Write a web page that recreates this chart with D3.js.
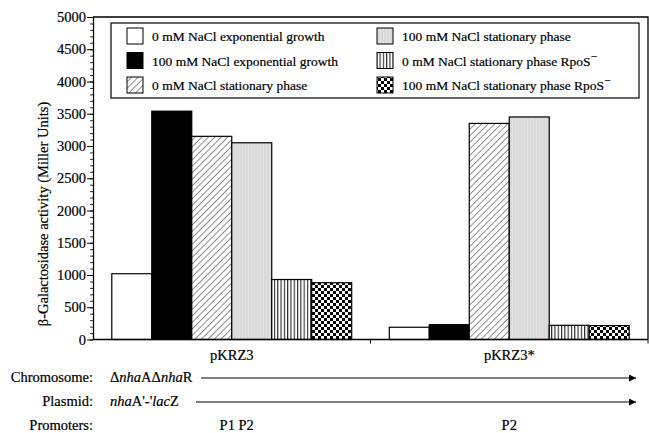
<!DOCTYPE html>
<html><head><meta charset="utf-8">
<script src="https://cdn.jsdelivr.net/npm/d3@7"></script>
<style>
body{margin:0;background:#fff;}
svg{display:block;font-family:"Liberation Serif","Times New Roman",serif;}
svg text{stroke:#000;stroke-width:0.2px;}
</style></head>
<body><svg id="c" width="649" height="433"></svg>
<script>
const categories = ["pKRZ3", "pKRZ3*"];
const seriesNames = [
  "0 mM NaCl exponential growth",
  "100 mM NaCl exponential growth",
  "0 mM NaCl stationary phase",
  "100 mM NaCl stationary phase",
  "0 mM NaCl stationary phase RpoS",
  "100 mM NaCl stationary phase RpoS"
];
const exp0 = [1020, 190];
const exp100 = [3540, 230];
const stat0 = [3150, 3350];
const stat100 = [3050, 3450];
const rpos0 = [930, 220];
const rpos100 = [880, 215];
const yTicks = [0, 500, 1000, 1500, 2000, 2500, 3000, 3500, 4000, 4500, 5000];
const promoters = ["P1 P2", "P2"];

const seriesValues = [exp0, exp100, stat0, stat100, rpos0, rpos100];
const fills = ["#fff", "#000", "url(#hatch)", "url(#grey)", "url(#vert)", "url(#check)"];

const svg = d3.select("#c");
const defs = svg.append("defs");
// diagonal hatch
const ph = defs.append("pattern").attr("id","hatch").attr("patternUnits","userSpaceOnUse")
  .attr("width",4.6).attr("height",4.6).attr("patternTransform","rotate(45)");
ph.append("rect").attr("width",4.6).attr("height",4.6).attr("fill","#fff");
ph.append("line").attr("x1",0).attr("y1",0).attr("x2",0).attr("y2",4.6).attr("stroke","#222").attr("stroke-width",1);
// grey stipple
const pg = defs.append("pattern").attr("id","grey").attr("patternUnits","userSpaceOnUse").attr("width",3).attr("height",3);
pg.append("rect").attr("width",3).attr("height",3).attr("fill","#e2e2e2");
pg.append("line").attr("x1",1).attr("y1",0).attr("x2",1).attr("y2",3).attr("stroke","#cfcfcf").attr("stroke-width",1);
// vertical lines
const pv = defs.append("pattern").attr("id","vert").attr("patternUnits","userSpaceOnUse").attr("width",3.3).attr("height",4);
pv.append("rect").attr("width",3.3).attr("height",4).attr("fill","#fff");
pv.append("line").attr("x1",0.6).attr("y1",0).attr("x2",0.6).attr("y2",4).attr("stroke","#111").attr("stroke-width",1);
// checker
const pc = defs.append("pattern").attr("id","check").attr("patternUnits","userSpaceOnUse").attr("width",6).attr("height",6);
pc.append("rect").attr("width",6).attr("height",6).attr("fill","#fff");
pc.append("rect").attr("width",3).attr("height",3).attr("fill","#000");
pc.append("rect").attr("x",3).attr("y",3).attr("width",3).attr("height",3).attr("fill","#000");
// arrow
defs.append("marker").attr("id","arr").attr("viewBox","0 0 10 10").attr("refX",10).attr("refY",5)
  .attr("markerWidth",9).attr("markerHeight",7).attr("markerUnits","userSpaceOnUse").attr("orient","auto")
  .append("path").attr("d","M0,0L10,5L0,10Z").attr("fill","#000");

const mLeft = 93, mRight = 648, mTop = 17, mBottom = 339.5;
const y = d3.scaleLinear().domain([0, 5000]).range([mBottom, mTop]);
const x0 = d3.scaleBand().domain(categories).range([mLeft, mRight]).paddingInner(0).paddingOuter(0);
const x1 = d3.scaleBand().domain(d3.range(seriesNames.length)).range([0, x0.bandwidth()]).paddingInner(0).paddingOuter(0.47);

// bars
categories.forEach((c, ci) => {
  seriesValues.forEach((vals, si) => {
    svg.append("rect")
      .attr("x", x0(c) + x1(si))
      .attr("y", y(vals[ci]))
      .attr("width", x1.bandwidth())
      .attr("height", y(0) - y(vals[ci]))
      .attr("fill", fills[si])
      .attr("stroke", "#000").attr("stroke-width", 1.2);
  });
});

// frame
svg.append("path").attr("d", `M${mLeft},${mTop}H${mRight}V${mBottom}`).attr("fill","none").attr("stroke","#000").attr("stroke-width",1.3);

// y axis
const yMinor = svg.append("g").attr("transform", `translate(${mLeft},0)`)
  .call(d3.axisLeft(y).tickValues(d3.range(0, 5001, 100)).tickSize(3).tickFormat(""));
yMinor.select(".domain").remove();
yMinor.selectAll("line").attr("stroke","#333");
const yAx = svg.append("g").attr("transform", `translate(${mLeft},0)`)
  .call(d3.axisLeft(y).tickValues(yTicks).tickSize(6).tickSizeOuter(0).tickPadding(1).tickFormat(d3.format("d")));
yAx.select(".domain").attr("stroke-width",1.3);
yAx.selectAll("text").attr("font-family","Liberation Serif").attr("font-size",14.5).attr("fill","#000");

// x axis
const xAx = svg.append("g").attr("transform", `translate(0,${mBottom})`)
  .call(d3.axisBottom(x0).tickSize(0).tickPadding(10));
xAx.select(".domain").attr("d", `M${mLeft},0H${mRight}`).attr("stroke-width",1.3);
xAx.selectAll("text").attr("font-family","Liberation Serif").attr("font-size",14.5).attr("fill","#000");
// group separators ticks
categories.slice(1).concat(["__end"]).forEach((c) => {
  const xx = c === "__end" ? mRight : x0(c);
  svg.append("line").attr("x1",xx).attr("x2",xx).attr("y1",mBottom).attr("y2",mBottom+4).attr("stroke","#000");
});

// y title
svg.append("text").attr("transform", `translate(48,214) rotate(-90)`)
  .attr("text-anchor","middle").attr("font-size",14.5).text("β-Galactosidase activity (Miller Units)");

// legend
const lg = svg.append("g");
lg.append("rect").attr("x",111).attr("y",23).attr("width",528).attr("height",75).attr("fill","#fff").attr("stroke","#000").attr("stroke-width",1.2);
seriesNames.forEach((n, i) => {
  const col = Math.floor(i / 3), row = i % 3;
  const sx = col === 0 ? 127 : 377;
  const sy = 28 + row * 24.5;
  lg.append("rect").attr("x",sx).attr("y",sy).attr("width",16).attr("height",16)
    .attr("fill",fills[i]).attr("stroke","#000").attr("stroke-width",1);
  const t = lg.append("text").attr("x",sx + 25).attr("y",sy + 13).attr("font-size",13.5).text(n);
  if (i >= 4) t.append("tspan").attr("dy",-6).attr("font-size",11).text("\u2212");
});

// bottom annotation
const rows = [{lab:"Chromosome:", y:382}, {lab:"Plasmid:", y:406}, {lab:"Promoters:", y:430}];
rows.forEach(r => svg.append("text").attr("x",93).attr("y",r.y).attr("text-anchor","end").attr("font-size",14.5).text(r.lab));
const t1 = svg.append("text").attr("x",110).attr("y",382).attr("font-size",14.5);
t1.append("tspan").text("Δ"); t1.append("tspan").attr("font-style","italic").text("nha");
t1.append("tspan").text("AΔ"); t1.append("tspan").attr("font-style","italic").text("nha"); t1.append("tspan").text("R");
const t2 = svg.append("text").attr("x",110).attr("y",406).attr("font-size",14.5);
t2.append("tspan").attr("font-style","italic").text("nha"); t2.append("tspan").text("A'-'");
t2.append("tspan").attr("font-style","italic").text("lac"); t2.append("tspan").text("Z");
svg.append("line").attr("x1",201).attr("x2",636).attr("y1",378).attr("y2",378).attr("stroke","#000").attr("stroke-width",1.2).attr("marker-end","url(#arr)");
svg.append("line").attr("x1",196).attr("x2",636).attr("y1",402).attr("y2",402).attr("stroke","#000").attr("stroke-width",1.2).attr("marker-end","url(#arr)");
categories.forEach((c, i) => {
  svg.append("text").attr("x", x0(c) + x0.bandwidth()/2 + (i===0?5:0)).attr("y",430).attr("text-anchor","middle").attr("font-size",14.5).text(promoters[i]);
});
</script></body></html>
